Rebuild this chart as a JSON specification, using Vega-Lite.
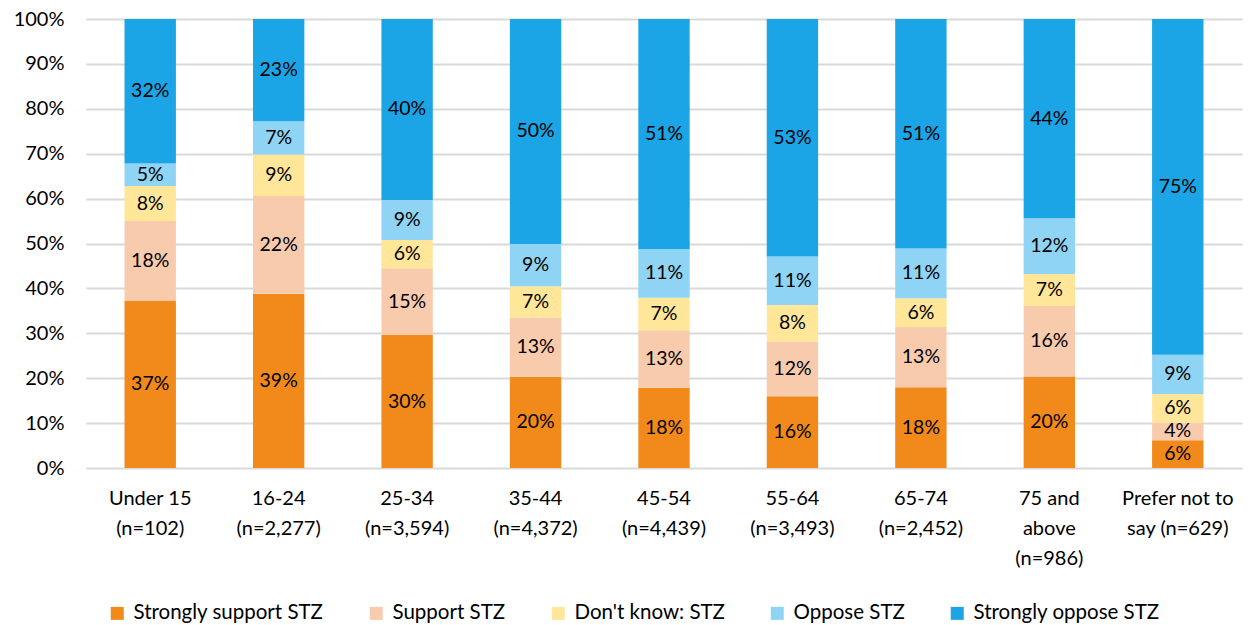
{
  "$schema": "https://vega.github.io/schema/vega-lite/v6.json",
  "width": 1156,
  "height": 449,
  "padding": {"left": 13, "top": 9, "right": 10, "bottom": 0},
  "background": "white",
  "config": {"font": "Lato", "view": {"stroke": null}},
  "data": {"values": [
    {"age": "Under 15|(n=102)", "resp": "Strongly support STZ", "v": 37.3},
    {"age": "Under 15|(n=102)", "resp": "Support STZ", "v": 17.7},
    {"age": "Under 15|(n=102)", "resp": "Don't know: STZ", "v": 7.8},
    {"age": "Under 15|(n=102)", "resp": "Oppose STZ", "v": 5.0},
    {"age": "Under 15|(n=102)", "resp": "Strongly oppose STZ", "v": 32.2},
    {"age": "16-24|(n=2,277)", "resp": "Strongly support STZ", "v": 38.8},
    {"age": "16-24|(n=2,277)", "resp": "Support STZ", "v": 21.8},
    {"age": "16-24|(n=2,277)", "resp": "Don't know: STZ", "v": 9.2},
    {"age": "16-24|(n=2,277)", "resp": "Oppose STZ", "v": 7.4},
    {"age": "16-24|(n=2,277)", "resp": "Strongly oppose STZ", "v": 22.8},
    {"age": "25-34|(n=3,594)", "resp": "Strongly support STZ", "v": 29.6},
    {"age": "25-34|(n=3,594)", "resp": "Support STZ", "v": 14.9},
    {"age": "25-34|(n=3,594)", "resp": "Don't know: STZ", "v": 6.3},
    {"age": "25-34|(n=3,594)", "resp": "Oppose STZ", "v": 8.9},
    {"age": "25-34|(n=3,594)", "resp": "Strongly oppose STZ", "v": 40.3},
    {"age": "35-44|(n=4,372)", "resp": "Strongly support STZ", "v": 20.3},
    {"age": "35-44|(n=4,372)", "resp": "Support STZ", "v": 13.2},
    {"age": "35-44|(n=4,372)", "resp": "Don't know: STZ", "v": 7.0},
    {"age": "35-44|(n=4,372)", "resp": "Oppose STZ", "v": 9.4},
    {"age": "35-44|(n=4,372)", "resp": "Strongly oppose STZ", "v": 50.1},
    {"age": "45-54|(n=4,439)", "resp": "Strongly support STZ", "v": 17.9},
    {"age": "45-54|(n=4,439)", "resp": "Support STZ", "v": 12.8},
    {"age": "45-54|(n=4,439)", "resp": "Don't know: STZ", "v": 7.2},
    {"age": "45-54|(n=4,439)", "resp": "Oppose STZ", "v": 10.9},
    {"age": "45-54|(n=4,439)", "resp": "Strongly oppose STZ", "v": 51.2},
    {"age": "55-64|(n=3,493)", "resp": "Strongly support STZ", "v": 16.0},
    {"age": "55-64|(n=3,493)", "resp": "Support STZ", "v": 12.2},
    {"age": "55-64|(n=3,493)", "resp": "Don't know: STZ", "v": 8.1},
    {"age": "55-64|(n=3,493)", "resp": "Oppose STZ", "v": 10.8},
    {"age": "55-64|(n=3,493)", "resp": "Strongly oppose STZ", "v": 52.9},
    {"age": "65-74|(n=2,452)", "resp": "Strongly support STZ", "v": 18.0},
    {"age": "65-74|(n=2,452)", "resp": "Support STZ", "v": 13.4},
    {"age": "65-74|(n=2,452)", "resp": "Don't know: STZ", "v": 6.4},
    {"age": "65-74|(n=2,452)", "resp": "Oppose STZ", "v": 11.1},
    {"age": "65-74|(n=2,452)", "resp": "Strongly oppose STZ", "v": 51.1},
    {"age": "75 and|above|(n=986)", "resp": "Strongly support STZ", "v": 20.4},
    {"age": "75 and|above|(n=986)", "resp": "Support STZ", "v": 15.7},
    {"age": "75 and|above|(n=986)", "resp": "Don't know: STZ", "v": 7.1},
    {"age": "75 and|above|(n=986)", "resp": "Oppose STZ", "v": 12.4},
    {"age": "75 and|above|(n=986)", "resp": "Strongly oppose STZ", "v": 44.4},
    {"age": "Prefer not to|say (n=629)", "resp": "Strongly support STZ", "v": 6.2},
    {"age": "Prefer not to|say (n=629)", "resp": "Support STZ", "v": 3.9},
    {"age": "Prefer not to|say (n=629)", "resp": "Don't know: STZ", "v": 6.4},
    {"age": "Prefer not to|say (n=629)", "resp": "Oppose STZ", "v": 8.7},
    {"age": "Prefer not to|say (n=629)", "resp": "Strongly oppose STZ", "v": 74.8}
  ]},
  "transform": [
    {"stack": "v", "groupby": ["age"], "as": ["v0", "v1"]},
    {"calculate": "(datum.v0 + datum.v1) / 2", "as": "mid"},
    {"calculate": "format(datum.v, '.0f') + '%'", "as": "lbl"}
  ],
  "encoding": {
    "x": {
      "field": "age", "type": "nominal", "sort": null,
      "scale": {"paddingInner": 0.6, "paddingOuter": 0.3},
      "axis": {
        "title": null, "labelAngle": 0, "domain": false, "ticks": false,
        "labelExpr": "split(datum.label, '|')",
        "labelFontSize": 20, "labelColor": "#000000", "labelPadding": 20,
        "labelLineHeight": 30, "labelBaseline": "top"
      }
    }
  },
  "layer": [
    {
      "mark": {"type": "bar"},
      "encoding": {
        "y": {
          "field": "v0", "type": "quantitative",
          "scale": {"domain": [0, 100], "nice": false},
          "axis": {
            "title": null, "values": [0, 10, 20, 30, 40, 50, 60, 70, 80, 90, 100],
            "labelExpr": "datum.value + '%'", "domain": false, "ticks": false,
            "labelFontSize": 20, "labelColor": "#000000", "labelPadding": 22,
            "gridColor": "#D9D9D9", "gridWidth": 2
          }
        },
        "y2": {"field": "v1"},
        "color": {
          "field": "resp", "type": "nominal",
          "scale": {
            "domain": ["Strongly support STZ", "Support STZ", "Don't know: STZ", "Oppose STZ", "Strongly oppose STZ"],
            "range": ["#F28A1B", "#F8CBAD", "#FFE699", "#8FD4F5", "#1BA5E6"]
          },
          "legend": {
            "title": null, "orient": "none", "direction": "horizontal",
            "legendX": 21, "legendY": 584,
            "symbolType": "square", "symbolSize": 169, "symbolStrokeWidth": 0,
            "labelFontSize": 20.5, "labelColor": "#000000", "columnPadding": 42,
            "labelOffset": 6, "labelLimit": 400
          }
        }
      }
    },
    {
      "mark": {"type": "text", "fontSize": 19.5, "color": "#000000", "baseline": "middle"},
      "encoding": {
        "y": {"field": "mid", "type": "quantitative"},
        "text": {"field": "lbl", "type": "nominal"}
      }
    }
  ]
}
